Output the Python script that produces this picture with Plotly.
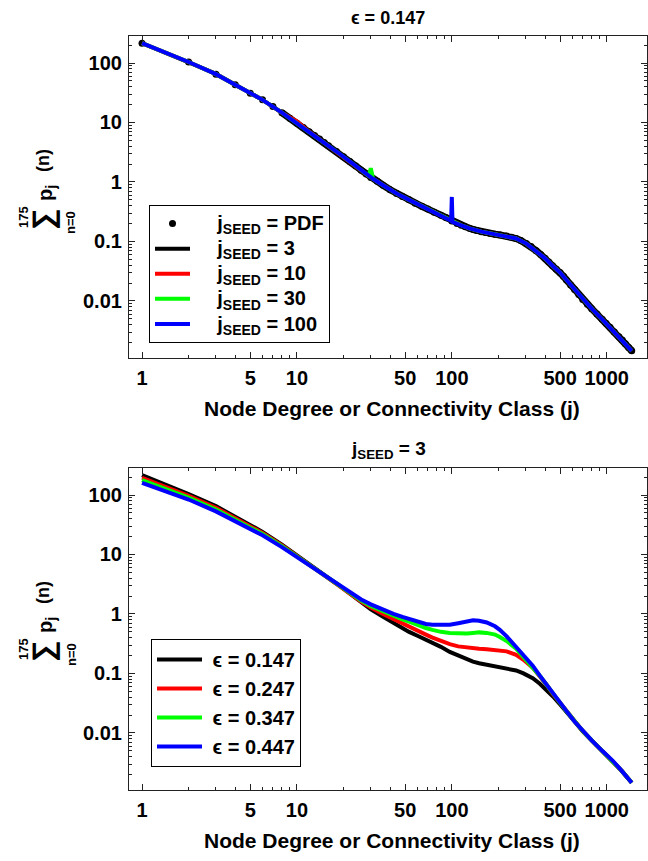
import plotly.graph_objects as go

# ---------------- data: top panel (epsilon = 0.147) ----------------
pdf_j = [1, 2, 3, 4, 5, 6, 7, 8, 9, 10, 11, 12, 13, 14, 15, 16, 18, 20, 22, 24, 26, 28, 30,
         33, 36, 40, 44, 48, 53, 58, 64, 70, 77, 85, 92, 100, 108, 115, 122, 130, 138, 145,
         155, 165, 177, 190, 205, 226, 243, 260, 280, 303, 325, 350, 375, 400, 423, 447, 473,
         500, 525, 550, 585, 620, 660, 700, 750, 800, 865, 935, 990, 1050, 1120, 1200, 1260,
         1320, 1385, 1450]
pdf_p = [215, 104, 65, 43, 31, 24, 18.5, 14.6, 11.8, 9.7, 8.2, 7.0, 6.05, 5.25, 4.6, 4.05, 3.25,
         2.65, 2.2, 1.85, 1.58, 1.36, 1.19, 1.03, 0.88, 0.74, 0.64, 0.57, 0.5, 0.44, 0.39, 0.35,
         0.31, 0.275, 0.25, 0.22, 0.2, 0.187, 0.176, 0.166, 0.158, 0.152, 0.146, 0.141, 0.136,
         0.132, 0.128, 0.123, 0.118, 0.112, 0.103, 0.092, 0.082, 0.07, 0.06, 0.052, 0.045, 0.039,
         0.034, 0.03, 0.026, 0.0225, 0.0185, 0.0155, 0.0128, 0.0106, 0.0088, 0.0074, 0.006,
         0.0049, 0.0042, 0.0036, 0.003, 0.0025, 0.0022, 0.0019, 0.00165, 0.00145]

seed_j = [1, 2, 3, 4, 5, 6, 8, 10, 12, 15, 18, 22, 26, 29, 30, 31, 36, 44, 53, 64, 77, 92, 99,
          100, 101, 115, 130, 155, 190, 226, 260, 303, 350, 400, 447, 500, 550, 620, 700, 800,
          935, 1050, 1200, 1320, 1450]
seed3 = [215, 104, 66, 43, 31, 24, 14.6, 9.7, 7.0, 4.6, 3.25, 2.2, 1.58, 1.27, 1.19, 1.13, 0.88,
         0.64, 0.5, 0.39, 0.31, 0.25, 0.223, 0.22, 0.218, 0.187, 0.166, 0.146, 0.132, 0.123,
         0.112, 0.092, 0.07, 0.052, 0.039, 0.03, 0.0225, 0.0155, 0.0106, 0.0074, 0.0049, 0.0036,
         0.0025, 0.0019, 0.00145]
seed10 = [215, 104, 65, 43, 31, 24, 14.6, 10.4, 7.0, 4.6, 3.25, 2.2, 1.58, 1.27, 1.19, 1.13, 0.88,
          0.64, 0.5, 0.39, 0.31, 0.25, 0.223, 0.22, 0.218, 0.187, 0.166, 0.146, 0.132, 0.123,
          0.112, 0.092, 0.07, 0.052, 0.039, 0.03, 0.0225, 0.0155, 0.0106, 0.0074, 0.0049, 0.0036,
          0.0025, 0.0019, 0.00145]
seed30 = [215, 104, 65, 43, 31, 24, 14.6, 9.7, 7.0, 4.6, 3.25, 2.2, 1.58, 1.27, 1.7, 1.13, 0.88,
          0.64, 0.5, 0.39, 0.31, 0.25, 0.223, 0.22, 0.218, 0.187, 0.166, 0.146, 0.132, 0.123,
          0.112, 0.092, 0.07, 0.052, 0.039, 0.03, 0.0225, 0.0155, 0.0106, 0.0074, 0.0049, 0.0036,
          0.0025, 0.0019, 0.00145]
seed100 = [215, 104, 65, 43, 31, 24, 14.6, 9.7, 7.0, 4.6, 3.25, 2.2, 1.58, 1.27, 1.19, 1.13, 0.88,
           0.64, 0.5, 0.39, 0.31, 0.25, 0.223, 0.56, 0.213, 0.187, 0.166, 0.146, 0.132, 0.123,
           0.112, 0.092, 0.07, 0.052, 0.039, 0.03, 0.0225, 0.0155, 0.0106, 0.0074, 0.0049, 0.0036,
           0.0025, 0.0019, 0.00145]

# ---------------- data: bottom panel (j_SEED = 3) ----------------
eps_j = [1, 2, 3, 4, 5, 6, 8, 10, 12, 15, 18, 22, 26, 30, 36, 42, 48, 53, 60, 68, 75, 85, 97,
         110, 125, 137, 150, 168, 190, 204, 226, 260, 290, 333, 370, 410, 450, 500, 552, 620,
         700, 800, 935, 1095, 1250, 1450]
eps147 = [215, 104, 65, 43, 31, 24, 14.6, 9.7, 7.0, 4.6, 3.25, 2.2, 1.58, 1.19, 0.9, 0.71, 0.58,
          0.5, 0.43, 0.37, 0.33, 0.28, 0.23, 0.2, 0.172, 0.158, 0.148, 0.14, 0.132, 0.129, 0.123,
          0.112, 0.1, 0.083, 0.067, 0.053, 0.041, 0.03, 0.0225, 0.0155, 0.0106, 0.0074, 0.0049,
          0.0033, 0.0023, 0.00145]
eps247 = [195, 97, 61, 41, 30, 23, 14.2, 9.5, 6.8, 4.5, 3.2, 2.2, 1.62, 1.28, 1.0, 0.82, 0.68,
          0.6, 0.52, 0.45, 0.4, 0.35, 0.31, 0.285, 0.27, 0.265, 0.26, 0.255, 0.25, 0.245, 0.235,
          0.205, 0.17, 0.125, 0.09, 0.064, 0.045, 0.032, 0.023, 0.0155, 0.0108, 0.0075, 0.005,
          0.0034, 0.0023, 0.00145]
eps347 = [178, 90, 57, 39, 28.5, 22, 13.8, 9.4, 6.8, 4.5, 3.25, 2.25, 1.68, 1.36, 1.1, 0.93, 0.81,
          0.74, 0.65, 0.58, 0.54, 0.5, 0.48, 0.47, 0.47, 0.48, 0.49, 0.48, 0.45, 0.41, 0.35, 0.26,
          0.19, 0.13, 0.091, 0.064, 0.045, 0.032, 0.023, 0.0155, 0.0108, 0.0075, 0.005, 0.0034,
          0.0023, 0.00145]
eps447 = [160, 84, 53, 36.5, 27, 21, 13.3, 9.1, 6.7, 4.5, 3.3, 2.3, 1.75, 1.45, 1.18, 1.0, 0.89,
          0.82, 0.74, 0.68, 0.66, 0.65, 0.66, 0.7, 0.75, 0.78, 0.77, 0.72, 0.62, 0.54, 0.42, 0.28,
          0.2, 0.135, 0.092, 0.064, 0.045, 0.032, 0.023, 0.0155, 0.0108, 0.0075, 0.005, 0.0034,
          0.0023, 0.00145]

x_tickvals = [1, 5, 10, 50, 100, 500, 1000]
x_ticktext = ["1", "5", "10", "50", "100", "500", "1000"]
y_tickvals = [100, 10, 1, 0.1, 0.01]
y_ticktext = ["100", "10", "1", "0.1", "0.01"]
x_minor = [2, 3, 4, 6, 7, 8, 9, 20, 30, 40, 60, 70, 80, 90, 200, 300, 400, 600, 700, 800, 900]
y_minor = [d * m for d in [0.001, 0.01, 0.1, 1, 10, 100] for m in range(2, 10)]

# ---------------- figure ----------------
W, H = 648, 861
FONT = "Liberation Sans, Arial, sans-serif"
NB = "\u00a0"

fig = go.Figure()

# dense PDF dots merge into a continuous black band beyond j ~ 8
fig.add_trace(go.Scatter(x=pdf_j[7:], y=pdf_p[7:], mode="lines", showlegend=False,
                         line=dict(color="black", width=7), hoverinfo="skip",
                         xaxis="x", yaxis="y"))
fig.add_trace(go.Scatter(x=pdf_j, y=pdf_p, mode="markers",
                         name=f"<span style='font-size:20px'>{NB * 4}j<sub>SEED</sub> = PDF</span>",
                         marker=dict(color="black", size=7), legend="legend",
                         xaxis="x", yaxis="y"))
top_series = [(seed3, "black", "3"), (seed10, "#ff0000", "10"),
              (seed30, "#00ff00", "30"), (seed100, "#0000ff", "100")]
for vals, col, lab in top_series:
    fig.add_trace(go.Scatter(x=seed_j, y=vals, mode="lines",
                             name=f"<span style='font-size:20px'>{NB * 4}j<sub>SEED</sub> = {lab}</span>",
                             line=dict(color=col, width=4), legend="legend",
                             xaxis="x", yaxis="y"))

bottom_series = [(eps147, "black", "0.147"), (eps247, "#ff0000", "0.247"),
                 (eps347, "#00ff00", "0.347"), (eps447, "#0000ff", "0.447")]
for vals, col, lab in bottom_series:
    fig.add_trace(go.Scatter(x=eps_j, y=vals, mode="lines", name=f"{NB}ϵ = {lab}",
                             line=dict(color=col, width=4), legend="legend2",
                             xaxis="x2", yaxis="y2"))

def px_x(p):
    return p / W

def px_y(p):
    return (H - p) / H

xr = [-0.084, 3.26]
yr = [-2.96, 2.454]

axis_common = dict(type="log", showline=True, linecolor="#222", linewidth=1.2, mirror="allticks",
                   ticks="inside", ticklen=6, tickwidth=1, tickcolor="#222", showgrid=False,
                   zeroline=False, tickfont=dict(family=FONT, size=20, color="black", weight="bold"),
                   ticklabelstandoff=2)

xa = dict(axis_common, range=xr, tickmode="array", tickvals=x_tickvals, ticktext=x_ticktext,
          minor=dict(tickmode="array", tickvals=x_minor, ticks="inside", ticklen=3, tickcolor="#222"))
ya = dict(axis_common, range=yr, tickmode="array", tickvals=y_tickvals, ticktext=y_ticktext,
          minor=dict(tickmode="array", tickvals=y_minor, ticks="inside", ticklen=3, tickcolor="#222"))

fig.update_layout(
    width=W, height=H, margin=dict(l=0, r=0, t=0, b=0),
    paper_bgcolor="white", plot_bgcolor="white",
    xaxis=dict(xa, domain=[px_x(129), px_x(647)], anchor="y"),
    yaxis=dict(ya, domain=[px_y(358), px_y(36)], anchor="x"),
    xaxis2=dict(xa, domain=[px_x(129), px_x(647)], anchor="y2"),
    yaxis2=dict(ya, domain=[px_y(790), px_y(468)], anchor="x2"),
    legend=dict(x=px_x(149), y=px_y(205), xanchor="left", yanchor="top",
                bordercolor="black", borderwidth=1, bgcolor="white",
                font=dict(family=FONT, size=17, color="black", weight="bold"),
                itemwidth=35, tracegroupgap=0),
    legend2=dict(x=px_x(151), y=px_y(639), xanchor="left", yanchor="top",
                 bordercolor="black", borderwidth=1, bgcolor="white",
                 font=dict(family=FONT, size=20, color="black", weight="bold"),
                 itemwidth=45, tracegroupgap=0),
    showlegend=True,
)

def fnt(size):
    return dict(family=FONT, size=size, color="black", weight="bold")

annotations = [
    dict(text="ϵ = 0.147", x=388, y=18, font=fnt(18)),
    dict(text="j<sub>SEED</sub> = 3", x=388, y=450, font=fnt(19)),
    dict(text="Node Degree or Connectivity Class (j)", x=392, y=408, font=fnt(21)),
    dict(text="Node Degree or Connectivity Class (j)", x=392, y=840, font=fnt(21)),
]
# y-axis label: sum with stacked limits, rotated, for both panels
for dy in (0, 432):
    annotations += [
        dict(text="(n)", x=43, y=161 + dy, font=fnt(18), textangle=-90),
        dict(text="p<sub>j</sub>", x=46, y=193 + dy, font=fnt(20), textangle=-90),
        dict(text="∑", x=43, y=220 + dy, font=fnt(30), textangle=-90),
        dict(text="175", x=23, y=217 + dy, font=fnt(13), textangle=-90),
        dict(text="n=0", x=71, y=223 + dy, font=fnt(13), textangle=-90),
    ]
for a in annotations:
    a["x"] = px_x(a["x"])
    a["y"] = px_y(a["y"])
    fig.add_annotation(xref="paper", yref="paper", showarrow=False, xanchor="center",
                       yanchor="middle", **a)

fig.write_html("out.html")
